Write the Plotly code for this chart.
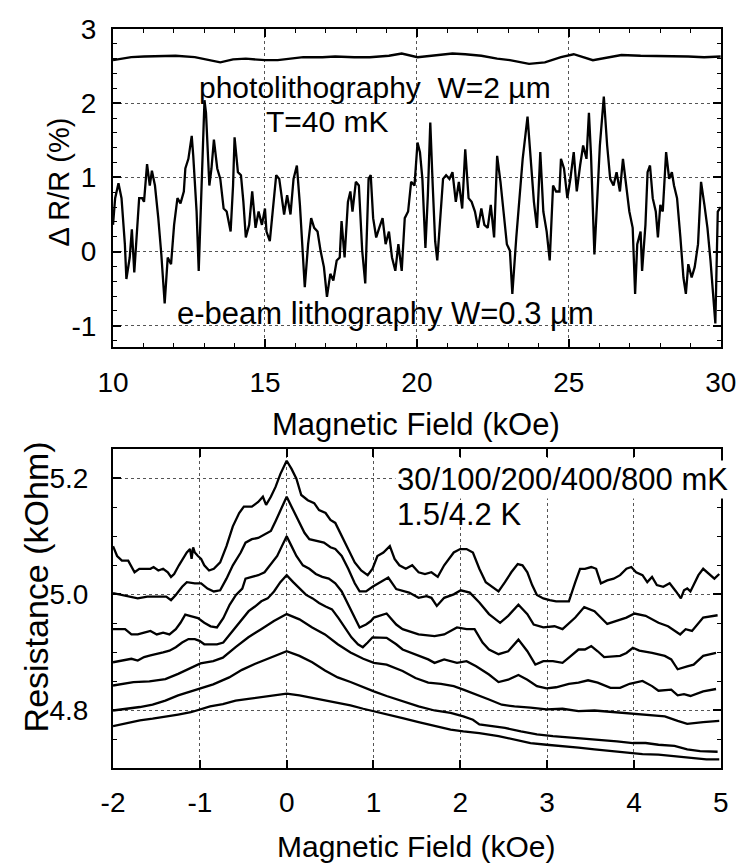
import plotly.graph_objects as go

# ---------------- data ----------------
# Upper panel: Delta R/R (%) vs magnetic field (kOe)
TOP_PHOTO = [
    (10.0, 2.58), (10.28, 2.60), (10.6, 2.62), (11.02, 2.63), (11.54, 2.64), (12.06, 2.64),
    (12.69, 2.62), (13.11, 2.58), (13.53, 2.55), (13.95, 2.59), (14.37, 2.60), (15.0, 2.58),
    (15.42, 2.58), (15.84, 2.60), (16.26, 2.62), (16.89, 2.62), (17.31, 2.63), (17.94, 2.62),
    (18.45, 2.62), (19.08, 2.64), (19.5, 2.67), (20.02, 2.62), (20.55, 2.64), (21.17, 2.67),
    (21.59, 2.66), (22.12, 2.64), (22.64, 2.60), (23.06, 2.58), (23.69, 2.53), (24.21, 2.55),
    (24.74, 2.62), (25.16, 2.66), (25.79, 2.58), (26.31, 2.62), (26.73, 2.65), (27.36, 2.64),
    (28.41, 2.64), (28.93, 2.63), (29.45, 2.62), (29.87, 2.63), (30.0, 2.63),
]

TOP_EBEAM = [
    (10.0, 0.36), (10.07, 0.72), (10.18, 0.92), (10.28, 0.72), (10.39, 0.10), (10.44, -0.37),
    (10.55, -0.08), (10.62, 0.30), (10.70, -0.28), (10.86, 0.72), (10.96, 0.72), (11.02, 0.67),
    (11.12, 1.18), (11.21, 0.89), (11.28, 1.09), (11.38, 0.89), (11.49, 0.45), (11.59, -0.04),
    (11.70, -0.70), (11.80, -0.08), (11.91, -0.17), (12.01, 0.36), (12.12, 0.72), (12.22, 0.65),
    (12.33, 0.81), (12.38, 1.12), (12.48, 1.25), (12.59, 1.56), (12.64, 1.29), (12.75, 0.54),
    (12.82, -0.26), (12.90, 0.72), (13.01, 2.04), (13.06, 1.87), (13.17, 0.89), (13.24, 1.12),
    (13.32, 1.51), (13.43, 1.12), (13.53, 0.98), (13.64, 0.58), (13.74, 0.54), (13.87, 0.27),
    (13.95, 0.89), (14.00, 1.54), (14.11, 1.07), (14.21, 1.03), (14.29, 0.67), (14.37, 0.19),
    (14.48, 0.36), (14.58, 0.81), (14.69, 0.32), (14.79, 0.54), (14.90, 0.36), (15.00, 0.58),
    (15.05, 0.27), (15.16, 0.14), (15.26, 0.54), (15.37, 1.03), (15.47, 0.98), (15.58, 0.67),
    (15.63, 0.50), (15.73, 0.76), (15.84, 0.50), (15.94, 0.98), (16.05, 1.16), (16.15, 0.63),
    (16.31, -0.48), (16.42, 0.10), (16.52, 0.45), (16.62, 0.32), (16.73, 0.27), (16.83, 0.01),
    (16.94, -0.21), (17.04, -0.61), (17.15, -0.30), (17.25, -0.39), (17.36, -0.12), (17.46, -0.08),
    (17.52, 0.41), (17.62, -0.08), (17.73, 0.67), (17.81, 0.81), (17.88, 0.54), (17.99, 0.94),
    (18.09, 0.89), (18.20, 0.01), (18.30, -0.43), (18.41, 0.98), (18.48, 1.03), (18.56, 0.45),
    (18.66, 0.19), (18.76, 0.32), (18.87, 0.45), (18.97, 0.10), (19.08, 0.27), (19.18, -0.08),
    (19.29, -0.26), (19.39, 0.10), (19.50, -0.26), (19.60, 0.45), (19.71, 0.54), (19.81, 0.94),
    (19.92, 0.89), (20.02, 1.47), (20.10, 1.34), (20.18, 0.98), (20.28, 0.05), (20.36, 0.76),
    (20.44, 1.74), (20.52, 0.89), (20.60, 0.14), (20.67, -0.12), (20.75, 0.32), (20.86, 0.98),
    (20.96, 1.03), (21.07, 0.98), (21.17, 1.07), (21.28, 0.67), (21.38, 0.94), (21.49, 0.58),
    (21.59, 1.38), (21.70, 0.72), (21.80, 0.67), (21.91, 0.54), (22.01, 0.32), (22.12, 0.58),
    (22.22, 0.36), (22.33, 0.32), (22.43, 0.63), (22.54, 0.19), (22.64, 1.29), (22.75, 0.94),
    (22.85, 0.54), (22.96, 0.10), (23.06, 0.01), (23.14, -0.57), (23.27, 0.19), (23.38, 0.81),
    (23.48, 1.25), (23.64, 1.82), (23.74, 1.20), (23.85, 0.67), (23.95, 0.32), (24.06, 1.34),
    (24.16, 0.54), (24.27, 0.27), (24.37, -0.12), (24.48, 0.89), (24.58, 0.81), (24.69, 0.81),
    (24.74, 1.25), (24.84, 1.12), (24.95, 0.72), (25.05, 0.98), (25.16, 1.34), (25.26, 0.81),
    (25.37, 1.16), (25.47, 1.43), (25.58, 1.25), (25.66, 1.87), (25.73, 1.29), (25.84, -0.04),
    (25.94, 0.76), (26.02, 1.43), (26.15, 2.09), (26.26, 1.43), (26.36, 0.98), (26.47, 0.89),
    (26.57, 1.07), (26.68, 0.81), (26.78, 1.25), (26.89, 0.89), (26.99, 0.54), (27.10, 0.32),
    (27.18, -0.57), (27.25, 0.10), (27.36, 0.27), (27.41, -0.26), (27.52, 0.36), (27.59, 1.07),
    (27.67, 1.16), (27.76, 0.72), (27.86, 0.54), (27.93, 0.19), (28.01, 0.63), (28.09, 0.54),
    (28.20, 1.34), (28.30, 0.98), (28.39, 1.07), (28.46, 0.89), (28.56, 0.72), (28.67, 0.19),
    (28.77, -0.35), (28.85, -0.57), (28.93, -0.17), (29.04, -0.35), (29.14, -0.21), (29.25, 0.10),
    (29.35, 0.94), (29.46, 0.63), (29.56, 0.32), (29.66, -0.12), (29.75, -0.61), (29.82, -0.97),
    (29.90, 0.54), (30.0, 0.60),
]

# Lower panel: resistance (kOhm) vs magnetic field (kOe), one curve per temperature
R_30MK = [
    (-2.0, 5.083), (-1.953, 5.066), (-1.898, 5.058), (-1.825, 5.058), (-1.752, 5.038), (-1.697, 5.044),
    (-1.642, 5.044), (-1.569, 5.044), (-1.533, 5.047), (-1.478, 5.041), (-1.423, 5.044), (-1.369, 5.038),
    (-1.332, 5.030), (-1.296, 5.035), (-1.241, 5.050), (-1.186, 5.064), (-1.150, 5.072), (-1.113, 5.078),
    (-1.095, 5.061), (-1.077, 5.081), (-1.058, 5.072), (-1.022, 5.066), (-0.985, 5.061), (-0.949, 5.050),
    (-0.894, 5.041), (-0.839, 5.044), (-0.766, 5.055), (-0.693, 5.083), (-0.620, 5.117), (-0.547, 5.140),
    (-0.493, 5.151), (-0.401, 5.151), (-0.328, 5.159), (-0.274, 5.168), (-0.237, 5.154), (-0.182, 5.168),
    (-0.128, 5.185), (-0.073, 5.207), (0.0, 5.230), (0.056, 5.216), (0.112, 5.199), (0.168, 5.171),
    (0.243, 5.162), (0.317, 5.157), (0.373, 5.145), (0.448, 5.140), (0.504, 5.128), (0.560, 5.123),
    (0.634, 5.100), (0.709, 5.078), (0.784, 5.055), (0.858, 5.041), (0.933, 5.033), (0.989, 5.044),
    (1.045, 5.066), (1.114, 5.072), (1.188, 5.083), (1.243, 5.061), (1.298, 5.050), (1.372, 5.044),
    (1.446, 5.050), (1.519, 5.038), (1.593, 5.035), (1.667, 5.038), (1.740, 5.030), (1.814, 5.050),
    (1.924, 5.072), (1.998, 5.078), (2.072, 5.078), (2.145, 5.072), (2.219, 5.044), (2.293, 5.021),
    (2.366, 5.013), (2.440, 5.005), (2.514, 5.021), (2.587, 5.038), (2.661, 5.052), (2.716, 5.050),
    (2.772, 5.038), (2.827, 5.016), (2.882, 4.999), (2.956, 4.993), (3.029, 4.990), (3.103, 4.988),
    (3.177, 4.988), (3.250, 4.988), (3.324, 5.021), (3.379, 5.044), (3.435, 5.044), (3.508, 5.047),
    (3.564, 5.044), (3.619, 5.019), (3.692, 5.024), (3.766, 5.027), (3.840, 5.033), (3.913, 5.044),
    (3.969, 5.047), (4.024, 5.038), (4.098, 5.033), (4.153, 5.021), (4.208, 5.030), (4.263, 5.016),
    (4.337, 5.013), (4.411, 5.019), (4.484, 5.005), (4.540, 4.993), (4.576, 5.007), (4.613, 5.010),
    (4.650, 5.005), (4.687, 5.016), (4.742, 5.033), (4.797, 5.044), (4.871, 5.035), (4.926, 5.027),
    (4.982, 5.035),
]

R_100MK = [
    (-2.0, 5.002), (-1.898, 4.999), (-1.825, 4.996), (-1.715, 4.993), (-1.606, 4.996), (-1.496, 4.996),
    (-1.387, 4.996), (-1.332, 4.990), (-1.277, 4.999), (-1.204, 5.013), (-1.150, 5.021), (-1.058, 5.019),
    (-0.985, 5.019), (-0.912, 5.010), (-0.839, 5.005), (-0.766, 5.007), (-0.693, 5.027), (-0.620, 5.050),
    (-0.529, 5.072), (-0.474, 5.089), (-0.401, 5.095), (-0.328, 5.097), (-0.255, 5.103), (-0.182, 5.109),
    (-0.128, 5.126), (-0.073, 5.145), (0.0, 5.168), (0.075, 5.145), (0.149, 5.123), (0.205, 5.106),
    (0.261, 5.095), (0.354, 5.092), (0.429, 5.089), (0.504, 5.081), (0.560, 5.078), (0.634, 5.066),
    (0.709, 5.044), (0.784, 5.019), (0.840, 5.005), (0.914, 5.005), (0.989, 5.013), (1.170, 5.029),
    (1.262, 5.009), (1.410, 5.003), (1.519, 4.994), (1.611, 4.997), (1.667, 4.994), (1.729, 4.980),
    (1.814, 4.994), (1.924, 5.000), (2.005, 5.007), (2.109, 5.003), (2.219, 4.986), (2.330, 4.966),
    (2.458, 4.951), (2.551, 4.963), (2.669, 4.982), (2.772, 4.966), (2.845, 4.948), (2.956, 4.943),
    (3.085, 4.945), (3.177, 4.940), (3.324, 4.960), (3.427, 4.978), (3.545, 4.971), (3.692, 4.949),
    (3.840, 4.957), (3.913, 4.960), (4.006, 4.967), (4.134, 4.963), (4.282, 4.951), (4.392, 4.945),
    (4.532, 4.931), (4.595, 4.940), (4.668, 4.937), (4.797, 4.960), (4.963, 4.964),
]

R_200MK = [
    (-2.0, 4.940), (-1.861, 4.940), (-1.788, 4.931), (-1.715, 4.931), (-1.642, 4.934), (-1.569, 4.937),
    (-1.496, 4.931), (-1.423, 4.934), (-1.350, 4.931), (-1.277, 4.940), (-1.223, 4.951), (-1.168, 4.965),
    (-1.095, 4.962), (-1.022, 4.959), (-0.949, 4.951), (-0.876, 4.945), (-0.803, 4.943), (-0.730, 4.959),
    (-0.657, 4.982), (-0.584, 4.999), (-0.511, 5.010), (-0.474, 5.027), (-0.401, 5.030), (-0.328, 5.033),
    (-0.255, 5.038), (-0.182, 5.052), (-0.109, 5.066), (-0.055, 5.083), (0.0, 5.100), (0.056, 5.083),
    (0.112, 5.066), (0.187, 5.050), (0.261, 5.044), (0.336, 5.035), (0.410, 5.030), (0.485, 5.027),
    (0.560, 5.019), (0.634, 5.005), (0.709, 4.982), (0.784, 4.959), (0.840, 4.943), (0.914, 4.948),
    (0.970, 4.954), (1.004, 4.960), (1.151, 4.967), (1.262, 4.948), (1.335, 4.940), (1.519, 4.931),
    (1.703, 4.928), (1.814, 4.931), (1.961, 4.943), (2.072, 4.940), (2.164, 4.940), (2.256, 4.917),
    (2.330, 4.905), (2.440, 4.897), (2.551, 4.902), (2.669, 4.922), (2.772, 4.902), (2.864, 4.879),
    (2.956, 4.885), (3.066, 4.885), (3.177, 4.882), (3.250, 4.891), (3.361, 4.905), (3.435, 4.905),
    (3.508, 4.911), (3.582, 4.902), (3.656, 4.892), (3.840, 4.894), (3.913, 4.899), (3.987, 4.908),
    (4.061, 4.903), (4.208, 4.899), (4.355, 4.894), (4.429, 4.888), (4.503, 4.871), (4.613, 4.876),
    (4.687, 4.879), (4.797, 4.894), (4.945, 4.899),
]

R_400MK = [
    (-2.0, 4.883), (-1.898, 4.886), (-1.788, 4.889), (-1.715, 4.886), (-1.642, 4.892), (-1.569, 4.895),
    (-1.496, 4.897), (-1.423, 4.900), (-1.350, 4.903), (-1.277, 4.909), (-1.204, 4.917), (-1.131, 4.923),
    (-1.058, 4.923), (-1.004, 4.920), (-0.949, 4.914), (-0.876, 4.914), (-0.803, 4.914), (-0.730, 4.917),
    (-0.657, 4.931), (-0.584, 4.945), (-0.511, 4.959), (-0.438, 4.971), (-0.365, 4.979), (-0.292, 4.988),
    (-0.219, 4.993), (-0.146, 5.005), (-0.073, 5.021), (0.0, 5.033), (0.075, 5.021), (0.149, 5.010),
    (0.224, 4.999), (0.299, 4.993), (0.373, 4.985), (0.448, 4.979), (0.522, 4.974), (0.597, 4.959),
    (0.672, 4.943), (0.746, 4.926), (0.821, 4.914), (0.877, 4.909), (0.933, 4.917), (0.989, 4.926),
    (1.151, 4.925), (1.262, 4.914), (1.335, 4.905), (1.483, 4.897), (1.630, 4.888), (1.703, 4.882),
    (1.814, 4.888), (1.961, 4.882), (2.072, 4.885), (2.182, 4.876), (2.330, 4.862), (2.440, 4.849),
    (2.551, 4.853), (2.669, 4.861), (2.772, 4.853), (2.882, 4.842), (2.993, 4.838), (3.103, 4.840),
    (3.250, 4.846), (3.361, 4.848), (3.471, 4.852), (3.582, 4.848), (3.729, 4.839), (3.840, 4.839),
    (3.950, 4.846), (4.098, 4.851), (4.208, 4.842), (4.282, 4.834), (4.429, 4.836), (4.503, 4.826),
    (4.576, 4.828), (4.650, 4.825), (4.797, 4.833), (4.945, 4.837),
]

R_800MK = [
    (-2.0, 4.843), (-1.765, 4.849), (-1.581, 4.850), (-1.397, 4.854), (-1.250, 4.863), (-1.103, 4.874),
    (-0.993, 4.881), (-0.846, 4.885), (-0.735, 4.891), (-0.588, 4.909), (-0.441, 4.926), (-0.294, 4.940),
    (-0.147, 4.954), (0.0, 4.966), (0.147, 4.957), (0.294, 4.943), (0.441, 4.931), (0.588, 4.914),
    (0.735, 4.900), (0.882, 4.889), (1.004, 4.882), (1.151, 4.879), (1.335, 4.868), (1.483, 4.856),
    (1.630, 4.848), (1.777, 4.846), (1.924, 4.842), (2.035, 4.836), (2.182, 4.828), (2.330, 4.819),
    (2.477, 4.810), (2.624, 4.807), (2.808, 4.805), (2.993, 4.802), (3.177, 4.803), (3.361, 4.799),
    (3.545, 4.800), (3.729, 4.798), (3.913, 4.796), (4.024, 4.794), (4.171, 4.793), (4.355, 4.790),
    (4.503, 4.782), (4.613, 4.777), (4.797, 4.780), (4.982, 4.782),
]

R_1P5K = [
    (-2.0, 4.800), (-1.838, 4.803), (-1.691, 4.806), (-1.544, 4.810), (-1.397, 4.817), (-1.250, 4.826),
    (-1.103, 4.833), (-0.993, 4.837), (-0.846, 4.845), (-0.662, 4.857), (-0.515, 4.870), (-0.368, 4.880),
    (-0.221, 4.889), (-0.092, 4.897), (0.0, 4.902), (0.147, 4.894), (0.294, 4.883), (0.441, 4.869),
    (0.588, 4.857), (0.735, 4.849), (0.882, 4.840), (1.004, 4.833), (1.151, 4.825), (1.335, 4.816),
    (1.519, 4.807), (1.703, 4.800), (1.888, 4.796), (2.035, 4.790), (2.145, 4.784), (2.219, 4.776),
    (2.366, 4.773), (2.514, 4.770), (2.698, 4.764), (2.882, 4.759), (3.066, 4.756), (3.250, 4.754),
    (3.435, 4.752), (3.619, 4.750), (3.803, 4.747), (3.987, 4.744), (4.134, 4.744), (4.282, 4.741),
    (4.466, 4.739), (4.613, 4.733), (4.761, 4.730), (4.963, 4.729),
]

R_4P2K = [
    (-2.0, 4.773), (-1.838, 4.778), (-1.691, 4.783), (-1.544, 4.786), (-1.397, 4.789), (-1.250, 4.793),
    (-1.103, 4.797), (-0.993, 4.802), (-0.882, 4.807), (-0.735, 4.811), (-0.588, 4.817), (-0.441, 4.820),
    (-0.294, 4.823), (-0.147, 4.826), (0.0, 4.829), (0.147, 4.826), (0.294, 4.822), (0.441, 4.817),
    (0.588, 4.813), (0.735, 4.809), (0.882, 4.803), (1.004, 4.799), (1.188, 4.793), (1.335, 4.787),
    (1.519, 4.780), (1.703, 4.773), (1.888, 4.767), (2.035, 4.764), (2.219, 4.761), (2.440, 4.756),
    (2.624, 4.750), (2.808, 4.744), (2.993, 4.741), (3.177, 4.739), (3.361, 4.736), (3.545, 4.733),
    (3.729, 4.730), (3.913, 4.728), (4.098, 4.725), (4.282, 4.724), (4.466, 4.721), (4.650, 4.718),
    (4.834, 4.716), (4.982, 4.716),
]

BOTTOM_CURVES = [
    ("30 mK", R_30MK), ("100 mK", R_100MK), ("200 mK", R_200MK), ("400 mK", R_400MK),
    ("800 mK", R_800MK), ("1.5 K", R_1P5K), ("4.2 K", R_4P2K),
]

TOP_X_TICKS = [10, 15, 20, 25, 30]
TOP_X_LABELS = ["10", "15", "20", "25", "30"]
TOP_Y_TICKS = [-1, 0, 1, 2, 3]
TOP_Y_LABELS = ["-1", "0", "1", "2", "3"]
BOT_X_TICKS = [-2, -1, 0, 1, 2, 3, 4, 5]
BOT_X_LABELS = ["-2", "-1", "0", "1", "2", "3", "4", "5"]
BOT_Y_TICKS = [4.8, 5.0, 5.2]
BOT_Y_LABELS = ["4.8", "5.0", "5.2"]

# ---------------- figure ----------------
# The page body keeps the browser's default 8px margin, so the figure is drawn
# 8px in from the window corner; positions below are window pixels.
PAGE_W, PAGE_H = 755, 867
OFF = 8
W, H = PAGE_W - OFF, PAGE_H - OFF
FONT = "Liberation Sans"


def fx(p):
    return (p - OFF) / W


def fy(p):
    return 1 - (p - OFF) / H


LINE = dict(color="black", width=2.3)

fig = go.Figure()
for name, pts in [("photolithography W=2 µm", TOP_PHOTO), ("e-beam lithography W=0.3 µm", TOP_EBEAM)]:
    fig.add_trace(go.Scatter(x=[p[0] for p in pts], y=[p[1] for p in pts], mode="lines",
                             line=LINE, name=name, xaxis="x", yaxis="y", hoverinfo="skip"))
for name, pts in BOTTOM_CURVES:
    fig.add_trace(go.Scatter(x=[p[0] for p in pts], y=[p[1] for p in pts], mode="lines",
                             line=LINE, name=name, xaxis="x2", yaxis="y2", hoverinfo="skip"))

common = dict(
    showline=True, linecolor="black", linewidth=2, mirror="ticks",
    ticks="inside", ticklen=8, tickwidth=1.6, tickcolor="black",
    showgrid=True, gridcolor="#555555", griddash="dot", gridwidth=1,
    zeroline=False, tickfont=dict(family=FONT, size=28, color="black"),
    ticklabeloverflow="allow", tickmode="array",
)


def minor(d):
    return dict(dtick=d, ticks="inside", ticklen=4, tickwidth=1.3, tickcolor="black", showgrid=False)


fig.update_layout(
    width=W, height=H, margin=dict(l=0, r=0, t=0, b=0),
    paper_bgcolor="white", plot_bgcolor="white", showlegend=False,
    xaxis=dict(domain=[fx(101), fx(736)], range=[10, 30], anchor="y",
               tickvals=TOP_X_TICKS, ticktext=TOP_X_LABELS, minor=minor(1), ticklabelstandoff=9, **common),
    yaxis=dict(domain=[fy(338), fy(14)], range=[-1.29, 3.002], anchor="x",
               tickvals=TOP_Y_TICKS, ticktext=TOP_Y_LABELS, minor=minor(0.2), ticklabelstandoff=9, **common),
    xaxis2=dict(domain=[fx(101), fx(736)], range=[-2, 5], anchor="y2",
                tickvals=BOT_X_TICKS, ticktext=BOT_X_LABELS, ticklabelstandoff=9, **common),
    yaxis2=dict(domain=[fy(766), fy(442)], range=[4.7014, 5.2495], anchor="x2",
                tickvals=BOT_Y_TICKS, ticktext=BOT_Y_LABELS, minor=minor(0.05),
                ticklabelstandoff=17, **common),
)

TXT = dict(family=FONT, size=31, color="black")
TXT30 = dict(family=FONT, size=30, color="black")
ann = [
    dict(text="Magnetic Field (kOe)", x=fx(418), y=fy(417)),
    dict(text="Magnetic Field (kOe)", x=fx(418), y=fy(846), font=TXT30),
    dict(text="Δ R/R (%)", x=fx(45), y=fy(170), textangle=-90, font=dict(family=FONT, size=29, color="black")),
    dict(text="Resistance (kOhm)", x=fx(21), y=fy(582), textangle=-90, font=dict(family=FONT, size=34, color="black")),
    dict(text="photolithography  W=2 µm", x=fx(375), y=fy(74), font=TXT30),
    dict(text="T=40 mK", x=fx(325), y=fy(108), font=TXT30),
    dict(text="e-beam lithography W=0.3 µm", x=fx(386), y=fy(304)),
    dict(text="30/100/200/400/800 mK", x=fx(396), y=fy(473), xanchor="left", bgcolor="white"),
    dict(text="1.5/4.2 K", x=fx(396), y=fy(508), xanchor="left"),
]
for a in ann:
    base = dict(xref="paper", yref="paper", showarrow=False, xanchor="center", yanchor="middle", font=TXT)
    base.update(a)
    fig.add_annotation(**base)

fig.write_html("out.html")
